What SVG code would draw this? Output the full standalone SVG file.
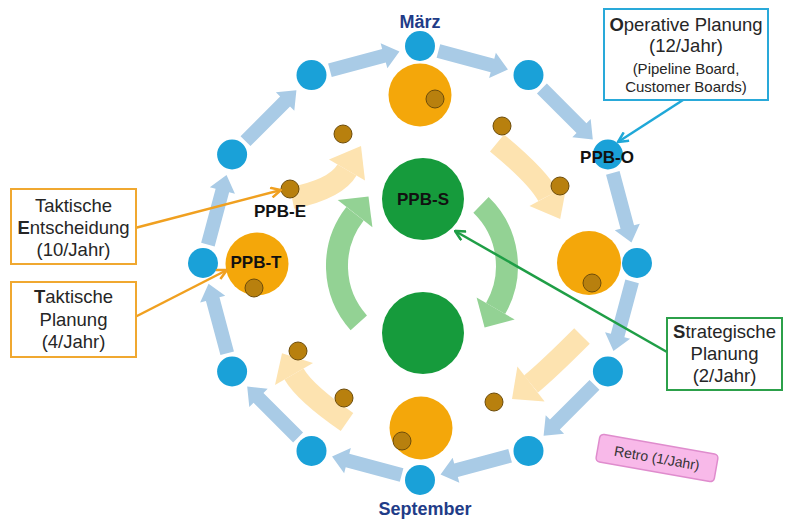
<svg xmlns="http://www.w3.org/2000/svg" width="800" height="525" viewBox="0 0 800 525">
<style>
.bc{fill:#1aa1d8}
.oc{fill:#f4a70a}
.br{fill:#b8800e;stroke:#6d4c0a;stroke-width:1}
.gc{fill:#169b3c}
.ba{fill:#a9cbe6}
.pa{fill:none;stroke:#fde3b0;stroke-width:22}
.ph{fill:#fde3b0}
.ga{fill:none;stroke:#93d294;stroke-width:22}
.gh{fill:#93d294}
.lbl{font-family:"Liberation Sans",Arial,sans-serif;font-weight:bold;font-size:17px;fill:#111;text-anchor:middle}
.mon{font-family:"Liberation Sans",Arial,sans-serif;font-weight:bold;font-size:18px;fill:#1f3c88;text-anchor:middle}
.bt{font-family:"Liberation Sans",Arial,sans-serif;font-size:18.5px;fill:#262626;text-anchor:middle}
.bs{font-size:15px}
.box{fill:#fff;stroke-width:2}
</style>
<defs>
<path id="barrow" d="M0,-7 H56 V-13 L72,0 L56,13 V7 H0 Z"/>
<marker id="mb" viewBox="0 0 12 12" refX="11" refY="6" markerWidth="12" markerHeight="12" markerUnits="userSpaceOnUse" orient="auto"><path d="M1,1 L11,6 L1,11" fill="none" stroke="#1fa8d8" stroke-width="2.5"/></marker>
<marker id="mo" viewBox="0 0 12 12" refX="11" refY="6" markerWidth="12" markerHeight="12" markerUnits="userSpaceOnUse" orient="auto"><path d="M1,1 L11,6 L1,11" fill="none" stroke="#f0a020" stroke-width="2.5"/></marker>
<marker id="mg" viewBox="0 0 12 12" refX="11" refY="6" markerWidth="12" markerHeight="12" markerUnits="userSpaceOnUse" orient="auto"><path d="M1,1 L11,6 L1,11" fill="none" stroke="#1f9e46" stroke-width="2.5"/></marker>
</defs>

<g id="connectors">
<g class="ba">
<use href="#barrow" transform="translate(438.4,50.9) rotate(15)"/>
<use href="#barrow" transform="translate(541.9,88.5) rotate(45)"/>
<use href="#barrow" transform="translate(612.8,172.9) rotate(75)"/>
<use href="#barrow" transform="translate(632.1,281.4) rotate(105)"/>
<use href="#barrow" transform="translate(594.5,384.9) rotate(135)"/>
<use href="#barrow" transform="translate(510.1,455.8) rotate(165)"/>
<use href="#barrow" transform="translate(401.6,475.1) rotate(195)"/>
<use href="#barrow" transform="translate(298.1,437.5) rotate(225)"/>
<use href="#barrow" transform="translate(227.2,353.2) rotate(255)"/>
<use href="#barrow" transform="translate(207.9,244.6) rotate(285)"/>
<use href="#barrow" transform="translate(245.5,141.1) rotate(315)"/>
<use href="#barrow" transform="translate(329.9,70.2) rotate(345)"/>
</g>
<g id="peach-arrows">
<path class="pa" d="M292,198 Q336,189 347,170"/>
<polygon class="ph" points="329,159.5 361,146 365,180.5"/>
<path class="pa" d="M497,143 Q538,177 548,196"/>
<polygon class="ph" points="566.5,186.1 560.2,218.9 529.5,205.9"/>
<path class="pa" d="M582,336 Q548,370 531,384"/>
<polygon class="ph" points="544.6,401.4 512,398.9 517.4,366.6"/>
<path class="pa" d="M347,422 Q305,393 294,374"/>
<polygon class="ph" points="313,363 282,353.2 275,385"/>
</g>
<g id="green-arcs">
<path class="ga" d="M358.8,322.9 A85,85 0 0 1 355,213.7"/>
<polygon class="gh" points="372.4,227.2 368.5,196.4 337.7,200.1"/>
<path class="ga" d="M481,204.9 A85,85 0 0 1 495.6,308.5"/>
<polygon class="gh" points="476.6,297.5 484.6,327.6 514.7,319.5"/>
</g>
</g>

<g id="months">
<circle id="m03" class="bc" cx="420" cy="46" r="15"/>
<circle id="m04" class="bc" cx="528.5" cy="75.1" r="15"/>
<circle id="m05" class="bc" cx="607.9" cy="154.5" r="15"/>
<circle id="m06" class="bc" cx="637" cy="263" r="15"/>
<circle id="m07" class="bc" cx="607.9" cy="371.5" r="15"/>
<circle id="m08" class="bc" cx="528.5" cy="450.9" r="15"/>
<circle id="m09" class="bc" cx="420" cy="480" r="15"/>
<circle id="m10" class="bc" cx="311.5" cy="450.9" r="15"/>
<circle id="m11" class="bc" cx="232.1" cy="371.5" r="15"/>
<circle id="m12" class="bc" cx="203" cy="263" r="15"/>
<circle id="m01" class="bc" cx="232.1" cy="154.5" r="15"/>
<circle id="m02" class="bc" cx="311.5" cy="75.1" r="15"/>
</g>

<g id="tactical">
<circle class="oc" cx="420" cy="95" r="31.5"/>
<circle class="oc" cx="589" cy="263" r="32"/>
<circle class="oc" cx="421" cy="428" r="31.5"/>
<circle class="oc" cx="257" cy="264" r="31.5"/>
</g>

<g id="decisions">
<circle class="br" cx="435" cy="99" r="9"/>
<circle class="br" cx="343" cy="134" r="9"/>
<circle class="br" cx="502" cy="126" r="9"/>
<circle class="br" cx="560" cy="186" r="9"/>
<circle class="br" cx="592" cy="283" r="9"/>
<circle class="br" cx="290" cy="189" r="9"/>
<circle class="br" cx="254" cy="288" r="9"/>
<circle class="br" cx="298" cy="351" r="9"/>
<circle class="br" cx="344" cy="398" r="9"/>
<circle class="br" cx="402" cy="441" r="9"/>
<circle class="br" cx="494" cy="402" r="9"/>
</g>

<g id="strategic">
<circle class="gc" cx="423" cy="199" r="41"/>
<circle class="gc" cx="423" cy="333" r="41"/>
</g>

<g id="annotation-lines">
<line x1="683" y1="100" x2="618" y2="142" stroke="#1fa8d8" stroke-width="2.5" marker-end="url(#mb)"/>
<line x1="135" y1="228" x2="281" y2="190" stroke="#f0a020" stroke-width="2.5" marker-end="url(#mo)"/>
<line x1="135" y1="317" x2="227" y2="270" stroke="#f0a020" stroke-width="2.5" marker-end="url(#mo)"/>
<line x1="667" y1="352" x2="455" y2="231" stroke="#1f9e46" stroke-width="2.5" marker-end="url(#mg)"/>
</g>

<g id="labels">
<text class="mon" x="420" y="28">März</text>
<text class="mon" x="425" y="515">September</text>
<text class="lbl" x="607" y="163">PPB-O</text>
<text class="lbl" x="280" y="217">PPB-E</text>
<text class="lbl" x="256" y="268">PPB-T</text>
<text class="lbl" x="423" y="205">PPB-S</text>
</g>

<g id="box-operative">
<rect class="box" x="604" y="9" width="164" height="91" stroke="#29a9d9"/>
<text class="bt" x="686" y="31" font-size="18"><tspan font-weight="bold">O</tspan>perative Planung</text>
<text class="bt" x="686" y="52" font-size="18">(12/Jahr)</text>
<text class="bt bs" x="686" y="74">(Pipeline Board,</text>
<text class="bt bs" x="686" y="92">Customer Boards)</text>
</g>

<g id="box-entscheidung">
<rect class="box" x="11" y="189" width="125" height="75" stroke="#f0a830"/>
<text class="bt" x="73.5" y="212">Taktische</text>
<text class="bt" x="73.5" y="234"><tspan font-weight="bold">E</tspan>ntscheidung</text>
<text class="bt" x="73.5" y="256">(10/Jahr)</text>
</g>

<g id="box-planung">
<rect class="box" x="11" y="282" width="125" height="75" stroke="#f0a830"/>
<text class="bt" x="73.5" y="303"><tspan font-weight="bold">T</tspan>aktische</text>
<text class="bt" x="73.5" y="326">Planung</text>
<text class="bt" x="73.5" y="348">(4/Jahr)</text>
</g>

<g id="box-strategisch">
<rect class="box" x="667" y="318" width="115" height="72" stroke="#2ca04a"/>
<text class="bt" x="724.5" y="338"><tspan font-weight="bold">S</tspan>trategische</text>
<text class="bt" x="724.5" y="360">Planung</text>
<text class="bt" x="724.5" y="382">(2/Jahr)</text>
</g>

<g id="retro" transform="translate(657,458) rotate(10)">
<rect x="-60" y="-14" width="120" height="28" rx="4" fill="#f8b9e9" stroke="#df8ccd" stroke-width="1.5"/>
<text x="0" y="5" font-family="'Liberation Sans',Arial,sans-serif" font-size="14" fill="#333" text-anchor="middle">Retro (1/Jahr)</text>
</g>
</svg>
